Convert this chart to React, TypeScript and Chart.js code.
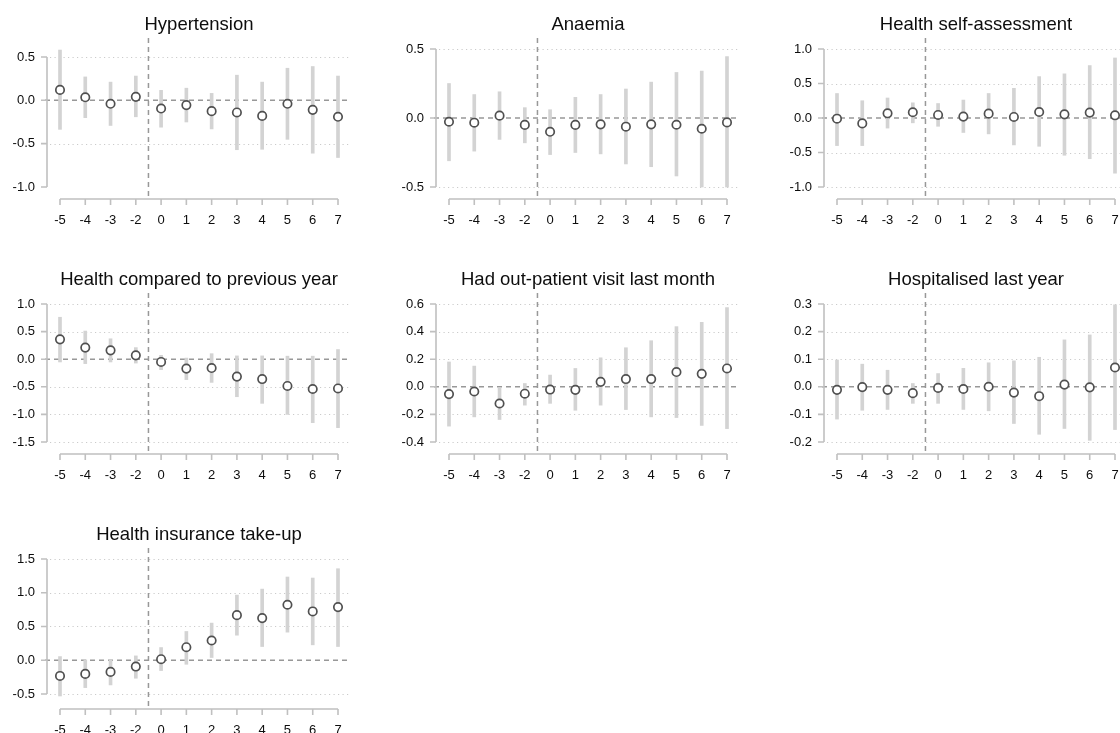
import React, { useEffect, useRef } from "react";
import { Chart, registerables } from "chart.js";

Chart.register(...registerables);

// ---------- data ----------
const periods = ["-5", "-4", "-3", "-2", "0", "1", "2", "3", "4", "5", "6", "7"];

const titles = [
  "Hypertension",
  "Anaemia",
  "Health self-assessment",
  "Health compared to previous year",
  "Had out-patient visit last month",
  "Hospitalised last year",
  "Health insurance take-up",
];

const hypertensionEst = [0.12, 0.035, -0.04, 0.04, -0.095, -0.055, -0.125, -0.14, -0.18, -0.04, -0.11, -0.19];
const hypertensionLo = [-0.335, -0.2, -0.29, -0.19, -0.31, -0.25, -0.33, -0.57, -0.565, -0.45, -0.61, -0.66];
const hypertensionHi = [0.58, 0.27, 0.21, 0.28, 0.115, 0.14, 0.08, 0.29, 0.21, 0.37, 0.39, 0.28];

const anaemiaEst = [-0.027, -0.034, 0.017, -0.05, -0.1, -0.05, -0.046, -0.063, -0.046, -0.049, -0.078, -0.032];
const anaemiaLo = [-0.31, -0.24, -0.155, -0.18, -0.265, -0.25, -0.26, -0.333, -0.353, -0.42, -0.5, -0.5];
const anaemiaHi = [0.25, 0.17, 0.19, 0.075, 0.06, 0.15, 0.17, 0.21, 0.26, 0.33, 0.34, 0.445];

const selfAssessEst = [-0.01, -0.078, 0.068, 0.083, 0.044, 0.02, 0.063, 0.015, 0.087, 0.053, 0.078, 0.039];
const selfAssessLo = [-0.4, -0.4, -0.146, -0.07, -0.12, -0.21, -0.23, -0.39, -0.41, -0.54, -0.59, -0.8];
const selfAssessHi = [0.355, 0.25, 0.29, 0.22, 0.21, 0.26, 0.355, 0.43, 0.6, 0.64, 0.76, 0.87];

const prevYearEst = [0.36, 0.21, 0.16, 0.07, -0.05, -0.17, -0.16, -0.315, -0.36, -0.485, -0.54, -0.53];
const prevYearLo = [-0.05, -0.08, -0.05, -0.07, -0.19, -0.37, -0.42, -0.68, -0.8, -1.0, -1.15, -1.24];
const prevYearHi = [0.76, 0.51, 0.37, 0.21, 0.07, 0.02, 0.1, 0.06, 0.06, 0.055, 0.055, 0.175];

const outpatientEst = [-0.053, -0.034, -0.121, -0.05, -0.02, -0.022, 0.036, 0.056, 0.056, 0.107, 0.094, 0.133];
const outpatientLo = [-0.285, -0.218, -0.237, -0.133, -0.12, -0.17, -0.133, -0.165, -0.218, -0.223, -0.28, -0.303];
const outpatientHi = [0.18, 0.15, -0.007, 0.024, 0.085, 0.133, 0.21, 0.283, 0.334, 0.436, 0.467, 0.574];

const hospitalEst = [-0.011, -0.001, -0.011, -0.023, -0.004, -0.008, 0.0, -0.021, -0.034, 0.008, -0.002, 0.07];
const hospitalLo = [-0.117, -0.085, -0.082, -0.06, -0.06, -0.082, -0.087, -0.133, -0.172, -0.151, -0.194, -0.155];
const hospitalHi = [0.097, 0.082, 0.06, 0.012, 0.048, 0.067, 0.087, 0.094, 0.107, 0.17, 0.188, 0.297];

const insuranceEst = [-0.233, -0.203, -0.173, -0.094, 0.015, 0.193, 0.292, 0.668, 0.624, 0.822, 0.723, 0.787];
const insuranceLo = [-0.53, -0.406, -0.366, -0.267, -0.153, -0.06, 0.04, 0.371, 0.203, 0.416, 0.228, 0.203];
const insuranceHi = [0.054, 0.005, 0.005, 0.064, 0.188, 0.426, 0.55, 0.965, 1.054, 1.233, 1.218, 1.356];

// y-axis tick values and limits per panel
const hypertensionTicks = [-1.0, -0.5, 0, 0.5];
const anaemiaTicks = [-0.5, 0, 0.5];
const selfAssessTicks = [-1.0, -0.5, 0, 0.5, 1.0];
const prevYearTicks = [-1.5, -1.0, -0.5, 0, 0.5, 1.0];
const outpatientTicks = [-0.4, -0.2, 0, 0.2, 0.4, 0.6];
const hospitalTicks = [-0.2, -0.1, 0, 0.1, 0.2, 0.3];
const insuranceTicks = [-0.5, 0, 0.5, 1.0, 1.5];

const yLimits = [
  [-1.0, 0.592],
  [-0.5, 0.5],
  [-1.0, 1.0],
  [-1.5, 1.0],
  [-0.4, 0.6],
  [-0.2, 0.3],
  [-0.545, 1.5],
];

// dotted reference lines (non-zero)
const hypertensionGrid = [-0.5, 0.5];
const anaemiaGrid = [-0.5, 0.5];
const selfAssessGrid = [-1.0, -0.5, 0.5, 1.0];
const prevYearGrid = [-1.5, -1.0, -0.5, 0.5, 1.0];
const outpatientGrid = [-0.4, -0.2, 0.2, 0.4, 0.6];
const hospitalGrid = [-0.2, -0.1, 0.1, 0.2, 0.3];
const insuranceGrid = [-0.5, 0.5, 1.0, 1.5];

type Panel = {
  title: string;
  est: number[];
  lo: number[];
  hi: number[];
  ticks: number[];
  grid: number[];
  yMin: number;
  yMax: number;
};

const panels: Panel[] = [
  { title: titles[0], est: hypertensionEst, lo: hypertensionLo, hi: hypertensionHi, ticks: hypertensionTicks, grid: hypertensionGrid, yMin: yLimits[0][0], yMax: yLimits[0][1] },
  { title: titles[1], est: anaemiaEst, lo: anaemiaLo, hi: anaemiaHi, ticks: anaemiaTicks, grid: anaemiaGrid, yMin: yLimits[1][0], yMax: yLimits[1][1] },
  { title: titles[2], est: selfAssessEst, lo: selfAssessLo, hi: selfAssessHi, ticks: selfAssessTicks, grid: selfAssessGrid, yMin: yLimits[2][0], yMax: yLimits[2][1] },
  { title: titles[3], est: prevYearEst, lo: prevYearLo, hi: prevYearHi, ticks: prevYearTicks, grid: prevYearGrid, yMin: yLimits[3][0], yMax: yLimits[3][1] },
  { title: titles[4], est: outpatientEst, lo: outpatientLo, hi: outpatientHi, ticks: outpatientTicks, grid: outpatientGrid, yMin: yLimits[4][0], yMax: yLimits[4][1] },
  { title: titles[5], est: hospitalEst, lo: hospitalLo, hi: hospitalHi, ticks: hospitalTicks, grid: hospitalGrid, yMin: yLimits[5][0], yMax: yLimits[5][1] },
  { title: titles[6], est: insuranceEst, lo: insuranceLo, hi: insuranceHi, ticks: insuranceTicks, grid: insuranceGrid, yMin: yLimits[6][0], yMax: yLimits[6][1] },
];

// ---------- layout ----------
const PANEL_W = 388;
const PANEL_H = 255;
const COL_X = [0, 389, 777];
const FONT = "'Liberation Sans', Arial, Helvetica, sans-serif";
const TEXT = "#0d0d0d";
const AXIS = "#c0c0c0";
const DASH = "#989898";

function PanelChart({ panel, left, top }: { panel: Panel; left: number; top: number }) {
  const ref = useRef<HTMLCanvasElement | null>(null);

  useEffect(() => {
    if (!ref.current) return;

    const rStyle = {
      id: "rStyle",
      beforeDatasetsDraw(chart: any) {
        const { ctx, chartArea } = chart;
        const xs = chart.scales.x;
        const ys = chart.scales.y;
        ctx.save();

        // dotted grid lines
        ctx.strokeStyle = "#cbcbcb";
        ctx.lineWidth = 1;
        ctx.setLineDash([1.2, 3.3]);
        for (const v of panel.grid) {
          const py = Math.round(ys.getPixelForValue(v)) + 0.5;
          ctx.beginPath();
          ctx.moveTo(chartArea.left - 10, py);
          ctx.lineTo(chartArea.right + 12, py);
          ctx.stroke();
        }

        // zero dashed line
        ctx.strokeStyle = DASH;
        ctx.lineWidth = 1.5;
        ctx.setLineDash([5, 4]);
        const y0 = ys.getPixelForValue(0);
        ctx.beginPath();
        ctx.moveTo(chartArea.left - 15, y0);
        ctx.lineTo(chartArea.right + 12, y0);
        ctx.stroke();

        // vertical dashed line between -2 and 0
        const xm = (xs.getPixelForValue(3) + xs.getPixelForValue(4)) / 2;
        ctx.beginPath();
        ctx.moveTo(xm, chartArea.top - 11);
        ctx.lineTo(xm, chartArea.bottom + 11);
        ctx.stroke();

        // R-style axes
        ctx.setLineDash([]);
        ctx.strokeStyle = AXIS;
        ctx.lineWidth = 1.6;
        const ax = chartArea.left - 13;
        const yTop = ys.getPixelForValue(panel.ticks[panel.ticks.length - 1]);
        const yBot = ys.getPixelForValue(panel.ticks[0]);
        ctx.beginPath();
        ctx.moveTo(ax, yTop);
        ctx.lineTo(ax, yBot);
        for (const v of panel.ticks) {
          const py = ys.getPixelForValue(v);
          ctx.moveTo(ax, py);
          ctx.lineTo(ax - 6, py);
        }
        ctx.stroke();

        const ay = chartArea.bottom + 12;
        const xFirst = xs.getPixelForValue(0);
        const xLast = xs.getPixelForValue(periods.length - 1);
        ctx.beginPath();
        ctx.moveTo(xFirst, ay);
        ctx.lineTo(xLast, ay);
        for (let i = 0; i < periods.length; i++) {
          const px = xs.getPixelForValue(i);
          ctx.moveTo(px, ay);
          ctx.lineTo(px, ay + 6);
        }
        ctx.stroke();

        ctx.restore();
      },
    };

    const chart = new Chart(ref.current, {
      type: "bar",
      data: {
        labels: periods,
        datasets: [
          {
            type: "line",
            label: "estimate",
            data: panel.est,
            showLine: false,
            pointRadius: 4.2,
            pointHoverRadius: 4.2,
            pointBorderWidth: 1.7,
            pointBorderColor: "#505050",
            pointBackgroundColor: "#ffffff",
            clip: false,
            order: 1,
          } as any,
          {
            type: "bar",
            label: "95% CI",
            data: panel.lo.map((l, i) => [l, panel.hi[i]]),
            backgroundColor: "#d3d3d3",
            borderWidth: 0,
            barThickness: 3,
            clip: false,
            order: 2,
          } as any,
        ],
      },
      options: {
        animation: false,
        responsive: false,
        events: [],
        layout: { padding: { top: 0, left: 0, right: 50, bottom: 0 } },
        plugins: {
          legend: { display: false },
          tooltip: { enabled: false },
          title: {
            display: true,
            text: panel.title,
            fullSize: false,
            align: "center",
            color: TEXT,
            font: { family: FONT, size: 18.5, weight: "normal" as any, lineHeight: 1.2 },
            padding: { top: 13.9, bottom: 12.9 },
          },
        },
        scales: {
          x: {
            type: "category",
            offset: false,
            grid: { display: false, drawTicks: false },
            border: { display: false },
            ticks: {
              autoSkip: false,
              maxRotation: 0,
              padding: 25.2,
              color: TEXT,
              font: { family: FONT, size: 13 },
            },
            afterFit: (s: any) => {
              s.height = 68;
            },
          },
          y: {
            type: "linear",
            min: panel.yMin,
            max: panel.yMax,
            grid: { display: false, drawTicks: false },
            border: { display: false },
            ticks: {
              padding: 25,
              color: TEXT,
              font: { family: FONT, size: 13 },
              callback: (v: any) => Number(v).toFixed(1),
            },
            afterBuildTicks: (s: any) => {
              s.ticks = panel.ticks.map((v) => ({ value: v }));
            },
            afterFit: (s: any) => {
              s.width = 60;
            },
          },
        },
      },
      plugins: [rStyle],
    } as any);

    return () => chart.destroy();
  }, [panel]);

  return (
    <div style={{ position: "absolute", left, top, width: PANEL_W, height: PANEL_H }}>
      <canvas ref={ref} width={PANEL_W} height={PANEL_H} style={{ width: PANEL_W, height: PANEL_H, display: "block" }} />
    </div>
  );
}

export default function App() {
  return (
    <div
      style={{
        position: "fixed",
        left: 0,
        top: 0,
        width: 1120,
        height: 733,
        overflow: "hidden",
        background: "#ffffff",
      }}
    >
      {panels.map((p, i) => (
        <PanelChart key={i} panel={p} left={COL_X[i % 3]} top={Math.floor(i / 3) * PANEL_H} />
      ))}
    </div>
  );
}
